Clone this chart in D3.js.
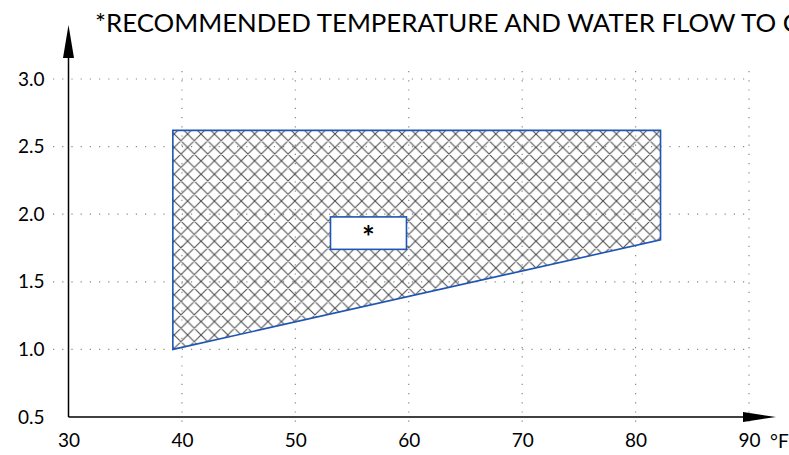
<!DOCTYPE html>
<html><head><meta charset="utf-8">
<script src="https://cdn.jsdelivr.net/npm/d3@7"></script>
<style>
body{margin:0;background:#fff;}
svg{display:block;font-family:Lato,"Open Sans",sans-serif;}
</style></head>
<body><svg id="c" width="789" height="455"></svg>
<script>
const titleText = "*RECOMMENDED TEMPERATURE AND WATER FLOW TO C";
const xTicks = [30, 40, 50, 60, 70, 80, 90];
const yTicks = [0.5, 1.0, 1.5, 2.0, 2.5, 3.0];
const xUnit = "°F";
// operating region polygon (temperature °F, flow)
const regionTemp = [39.2, 39.2, 82.2, 82.2];
const regionFlow = [1.0, 2.62, 2.62, 1.81];
// label box
const boxTemp = [53.1, 59.8];
const boxFlow = [1.74, 1.98];
const boxLabel = "*";

const svg = d3.select("#c");
const x = d3.scaleLinear().domain([30, 90]).range([68.5, 749]);
const y = d3.scaleLinear().domain([0.5, 3.0]).range([417, 79]);

// hatch pattern
const defs = svg.append("defs");
const P = 13.4;
const pat = defs.append("pattern").attr("id","hatch").attr("patternUnits","userSpaceOnUse")
  .attr("width",P).attr("height",P);
pat.append("path").attr("d",`M0,0 L${P},${P} M${P},0 L0,${P} M-3,3 L3,-3 M${P-3},${P+3} L${P+3},${P-3} M-3,${P-3} L3,${P+3} M${P-3},-3 L${P+3},3`)
  .attr("stroke","#505050").attr("stroke-width",1.1).attr("fill","none");

// gridlines
const grid = svg.append("g").attr("stroke","#888").attr("stroke-width",1.2).attr("stroke-dasharray","1.2,8");
grid.selectAll("line.h").data(yTicks.filter(d=>d>0.5)).join("line")
  .attr("class","h").attr("x1",53).attr("x2",x(90)).attr("y1",d=>y(d)).attr("y2",d=>y(d));
grid.selectAll("line.v").data(xTicks.filter(d=>d>30)).join("line")
  .attr("class","v").attr("x1",d=>x(d)).attr("x2",d=>x(d)).attr("y1",y(3.0)-8).attr("y2",y(0.5)+10);

// region
const pts = regionTemp.map((t,i)=>[x(t), y(regionFlow[i])]);
svg.append("polygon").attr("points", pts.map(p=>p.join(",")).join(" "))
  .attr("fill","url(#hatch)").attr("stroke","#1f56b4").attr("stroke-width",1.6);

// label box
svg.append("rect").attr("x",x(boxTemp[0])).attr("y",y(boxFlow[1]))
  .attr("width",x(boxTemp[1])-x(boxTemp[0])).attr("height",y(boxFlow[0])-y(boxFlow[1]))
  .attr("fill","#fff").attr("stroke","#1f56b4").attr("stroke-width",1.6);
svg.append("text").attr("x",(x(boxTemp[0])+x(boxTemp[1]))/2).attr("y",(y(boxFlow[0])+y(boxFlow[1]))/2+15)
  .attr("text-anchor","middle").attr("font-size",30).attr("font-weight","bold").attr("fill","#000").text(boxLabel);

// axes labels via d3 axes
const xAxis = svg.append("g").attr("transform",`translate(0,${y(0.5)})`)
  .call(d3.axisBottom(x).tickValues(xTicks).tickSize(0).tickPadding(17).tickFormat(d3.format("d")));
xAxis.select(".domain").remove();
xAxis.selectAll("text").attr("font-size",19).attr("font-family","Lato,'Open Sans',sans-serif").attr("fill","#000");

const yAxis = svg.append("g").attr("transform",`translate(${x(30)},0)`)
  .call(d3.axisLeft(y).tickValues(yTicks).tickSize(0).tickPadding(24).tickFormat(d3.format(".1f")));
yAxis.select(".domain").remove();
yAxis.selectAll("text").attr("font-size",19).attr("font-family","Lato,'Open Sans',sans-serif").attr("fill","#000");

svg.append("text").attr("x",770).attr("y",448).attr("font-size",19).attr("fill","#000").text(xUnit);

// axis lines + arrows
svg.append("line").attr("x1",x(30)).attr("x2",x(30)).attr("y1",y(0.5)).attr("y2",40).attr("stroke","#000").attr("stroke-width",1.5);
svg.append("path").attr("d",`M${x(30)},25 L${x(30)-5.5},58 L${x(30)+5.5},58 Z`).attr("fill","#000");
svg.append("line").attr("x1",x(30)).attr("x2",760).attr("y1",y(0.5)).attr("y2",y(0.5)).attr("stroke","#000").attr("stroke-width",1.5);
svg.append("path").attr("d",`M776,${y(0.5)} L743,${y(0.5)-5} L743,${y(0.5)+5} Z`).attr("fill","#000");

// title
const t = svg.append("text").attr("x",95).attr("y",32).attr("font-size",24).attr("fill","#000").text(titleText);
const prefix = titleText.length-1;
const w = t.node().getSubStringLength(0, prefix);
t.attr("font-size", 24*(783-95)/w);
</script></body></html>
